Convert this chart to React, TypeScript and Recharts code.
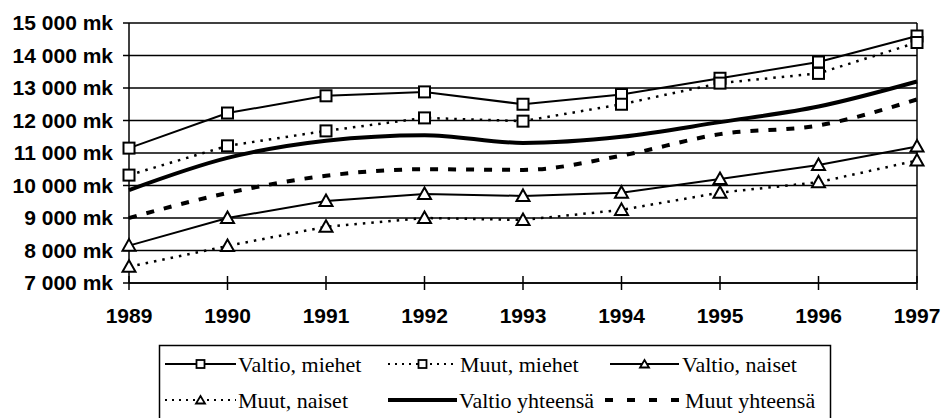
import React from "react";
import {
  LineChart,
  Line,
  XAxis,
  YAxis,
  CartesianGrid,
  ReferenceLine,
} from "recharts";

const years = ["1989", "1990", "1991", "1992", "1993", "1994", "1995", "1996", "1997"];
const valtioMiehet = [11150, 12230, 12760, 12880, 12500, 12800, 13300, 13800, 14600];
const muutMiehet = [10320, 11220, 11680, 12080, 11980, 12500, 13150, 13450, 14400];
const valtioNaiset = [8150, 9000, 9520, 9740, 9680, 9780, 10200, 10630, 11200];
const muutNaiset = [7500, 8140, 8730, 9000, 8940, 9250, 9780, 10100, 10770];
const valtioYht = [9860, 10850, 11380, 11550, 11310, 11500, 11950, 12430, 13200];
const muutYht = [9000, 9770, 10300, 10500, 10480, 10920, 11580, 11850, 12650];
const yTicks = [7000, 8000, 9000, 10000, 11000, 12000, 13000, 14000, 15000];

const data = years.map((y, i) => ({
  year: y,
  vm: valtioMiehet[i],
  mm: muutMiehet[i],
  vn: valtioNaiset[i],
  mn: muutNaiset[i],
  vy: valtioYht[i],
  my: muutYht[i],
}));

const AXIS_FONT = "'Liberation Sans', Arial, sans-serif";
const LEGEND_FONT = "'Liberation Serif', 'Times New Roman', serif";

const fmt = (v: number) => `${Math.floor(v / 1000)} 000 mk`;

const SquareDot = (props: any) => {
  const { cx, cy } = props;
  if (cx == null || cy == null) return null;
  return (
    <rect x={cx - 5.5} y={cy - 5.5} width={11} height={11} fill="#fff" stroke="#000" strokeWidth={2} />
  );
};

const TriDot = (props: any) => {
  const { cx, cy } = props;
  if (cx == null || cy == null) return null;
  return (
    <path
      d={`M${cx},${cy - 6.5} L${cx + 6.5},${cy + 5} L${cx - 6.5},${cy + 5} Z`}
      fill="#fff"
      stroke="#000"
      strokeWidth={2}
      strokeLinejoin="miter"
    />
  );
};

const XTick = (props: any) => {
  const { x, y, payload } = props;
  return (
    <g>
      <line x1={x} y1={y - 7} x2={x} y2={y + 7} stroke="#000" strokeWidth={1.5} />
      <text x={x} y={y + 40} textAnchor="middle" fontSize={21} fontWeight="bold" fontFamily={AXIS_FONT} fill="#000">
        {payload.value}
      </text>
    </g>
  );
};

// legend samples, drawn in page coordinates
const LegendBox = () => {
  const rows = [364, 400];
  const item = (x0: number, x1: number, y: number, kind: string) => {
    const mid = (x0 + x1) / 2;
    if (kind === "solidSq")
      return (
        <g>
          <line x1={x0} y1={y} x2={x1} y2={y} stroke="#000" strokeWidth={2} />
          <rect x={mid - 4} y={y - 4} width={8} height={8} fill="#fff" stroke="#000" strokeWidth={1.8} />
        </g>
      );
    if (kind === "dotSq")
      return (
        <g>
          <line x1={x0} y1={y} x2={x1} y2={y} stroke="#000" strokeWidth={2} strokeDasharray="2 5" />
          <rect x={mid - 4} y={y - 4} width={8} height={8} fill="#fff" stroke="#000" strokeWidth={1.8} />
        </g>
      );
    if (kind === "solidTri")
      return (
        <g>
          <line x1={x0} y1={y} x2={x1} y2={y} stroke="#000" strokeWidth={2} />
          <path d={`M${mid},${y - 4} L${mid + 4.5},${y + 3.5} L${mid - 4.5},${y + 3.5} Z`} fill="#fff" stroke="#000" strokeWidth={1.8} />
        </g>
      );
    if (kind === "dotTri")
      return (
        <g>
          <line x1={x0} y1={y} x2={x1} y2={y} stroke="#000" strokeWidth={2} strokeDasharray="2 5" />
          <path d={`M${mid},${y - 4} L${mid + 4.5},${y + 3.5} L${mid - 4.5},${y + 3.5} Z`} fill="#fff" stroke="#000" strokeWidth={1.8} />
        </g>
      );
    if (kind === "thick")
      return <line x1={x0} y1={y} x2={x1} y2={y} stroke="#000" strokeWidth={4} />;
    return <line x1={x0} y1={y} x2={x1} y2={y} stroke="#000" strokeWidth={4} strokeDasharray="8 14" />;
  };
  const label = (x: number, y: number, t: string) => (
    <text x={x} y={y + 8} fontSize={22} fontFamily={LEGEND_FONT} fill="#000">
      {t}
    </text>
  );
  return (
    <svg width={944} height={418} style={{ position: "absolute", left: 0, top: 0, pointerEvents: "none" }}>
      <rect x={159.5} y={345.5} width={671} height={90} fill="none" stroke="#000" strokeWidth={1.5} />
      {item(165, 236, rows[0], "solidSq")}
      {label(238, rows[0], "Valtio, miehet")}
      {item(388, 457, rows[0], "dotSq")}
      {label(460, rows[0], "Muut, miehet")}
      {item(610, 679, rows[0], "solidTri")}
      {label(682, rows[0], "Valtio, naiset")}
      {item(165, 236, rows[1], "dotTri")}
      {label(238, rows[1], "Muut, naiset")}
      {item(388, 457, rows[1], "thick")}
      {label(459, rows[1], "Valtio yhteensä")}
      {item(605, 683, rows[1], "dashed")}
      {label(685, rows[1], "Muut yhteensä")}
    </svg>
  );
};

export default function App() {
  return (
    <div style={{ position: "absolute", left: 0, top: 0, width: 944, height: 418, background: "#fff", overflow: "hidden" }}>
      <LineChart
        width={944}
        height={340}
        data={data}
        margin={{ top: 23, right: 27, left: 0, bottom: 0 }}
      >
        <CartesianGrid vertical={false} stroke="#000" strokeWidth={1.5} />
        <XAxis
          dataKey="year"
          height={57}
          axisLine={{ stroke: "#000", strokeWidth: 1.5 }}
          tickLine={false}
          tickSize={0}
          tickMargin={0}
          tick={<XTick />}
          interval={0}
        />
        <YAxis
          width={129}
          domain={[7000, 15000]}
          ticks={yTicks}
          tickFormatter={fmt}
          axisLine={{ stroke: "#000", strokeWidth: 1.5 }}
          tickLine={{ stroke: "#000", strokeWidth: 1.5 }}
          tickSize={6}
          tickMargin={10}
          tick={{ fontSize: 21, fontWeight: "bold", fontFamily: AXIS_FONT, fill: "#000" }}
          interval={0}
        />
        <ReferenceLine x="1997" stroke="#000" strokeWidth={1.5} />
        <Line dataKey="vy" type="monotone" stroke="#000" strokeWidth={4} dot={false} isAnimationActive={false} />
        <Line dataKey="my" type="monotone" stroke="#000" strokeWidth={4} strokeDasharray="8 10" dot={false} isAnimationActive={false} />
        <Line dataKey="vm" type="linear" stroke="#000" strokeWidth={2} dot={<SquareDot />} isAnimationActive={false} />
        <Line dataKey="mm" type="linear" stroke="#000" strokeWidth={2.5} strokeDasharray="2.5 6" dot={<SquareDot />} isAnimationActive={false} />
        <Line dataKey="vn" type="linear" stroke="#000" strokeWidth={2} dot={<TriDot />} isAnimationActive={false} />
        <Line dataKey="mn" type="linear" stroke="#000" strokeWidth={2.5} strokeDasharray="2.5 6" dot={<TriDot />} isAnimationActive={false} />
      </LineChart>
      <LegendBox />
    </div>
  );
}
